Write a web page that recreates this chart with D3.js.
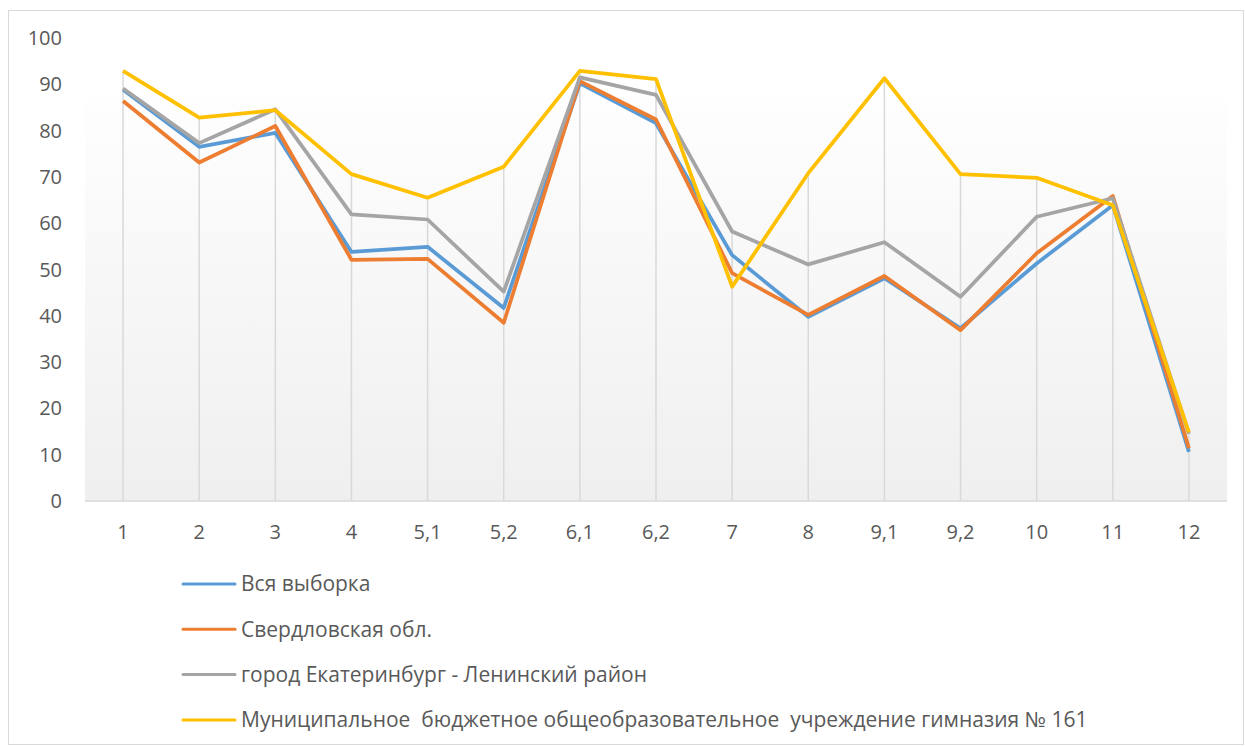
<!DOCTYPE html>
<html>
<head>
<meta charset="utf-8">
<script src="https://cdn.jsdelivr.net/npm/d3@7"></script>
<style>
  body { margin: 0; background: #fff; }
  svg { display: block; font-family: "Open Sans", "Noto Sans", sans-serif; }
</style>
</head>
<body>
<div id="chart"></div>
<script>
// categories (task numbers)
var categories = ["1", "2", "3", "4", "5,1", "5,2", "6,1", "6,2", "7", "8", "9,1", "9,2", "10", "11", "12"];

var seriesNames = [
  "Вся выборка",
  "Свердловская обл.",
  "город Екатеринбург - Ленинский район",
  "Муниципальное  бюджетное общеобразовательное  учреждение гимназия № 161"
];

var vsyaVyborka = [88.8, 76.5, 79.5, 53.8, 54.9, 41.7, 90.2, 81.6, 53.1, 39.8, 48.1, 37.3, 51.3, 63.9, 10.6];
var sverdlovsk = [86.4, 73.1, 81.0, 52.1, 52.3, 38.5, 90.7, 82.4, 49.2, 40.2, 48.6, 36.9, 53.5, 65.9, 11.4];
var leninsky   = [89.1, 77.3, 84.6, 61.9, 60.8, 45.2, 91.5, 87.7, 58.2, 51.1, 55.9, 44.1, 61.4, 65.4, 14.5];
var gymnasium  = [92.9, 82.8, 84.4, 70.6, 65.5, 72.2, 92.9, 91.1, 46.3, 70.8, 91.3, 70.6, 69.8, 63.9, 14.8];

var yTicks = [0, 10, 20, 30, 40, 50, 60, 70, 80, 90, 100];
var colors = ["#5b9bd5", "#ed7d31", "#a5a5a5", "#ffc000"];

var W = 1245, H = 746;
var plot = {left: 85, right: 1227, top: 38, bottom: 501};

var svg = d3.select("#chart").append("svg")
  .attr("width", W)
  .attr("height", H);

// outer frame
svg.append("rect")
  .attr("x", 8.5).attr("y", 10.5)
  .attr("width", W - 10).attr("height", H - 12)
  .attr("fill", "#fff")
  .attr("stroke", "#d9d9d9");

var x = d3.scalePoint()
  .domain(categories)
  .range([plot.left, plot.right])
  .padding(0.5);

var y = d3.scaleLinear()
  .domain([0, 100])
  .range([plot.bottom, plot.top]);

// plot area gradient
var grad = svg.append("defs").append("linearGradient")
  .attr("id", "bg").attr("x1", 0).attr("y1", 0).attr("x2", 0).attr("y2", 1);
grad.append("stop").attr("offset", "0%").attr("stop-color", "#fefefe");
grad.append("stop").attr("offset", "100%").attr("stop-color", "#efefef");

svg.append("rect")
  .attr("x", plot.left).attr("y", 98)
  .attr("width", plot.right - plot.left)
  .attr("height", plot.bottom - 98)
  .attr("fill", "url(#bg)");

var allSeries = [vsyaVyborka, sverdlovsk, leninsky, gymnasium];

// drop lines from the highest point of each category
svg.append("g")
  .selectAll("line")
  .data(categories)
  .enter().append("line")
    .attr("x1", function(d){ return x(d) })
    .attr("x2", function(d){ return x(d) })
    .attr("y1", function(d, i){ return y(d3.max(allSeries, function(s){ return s[i] })) })
    .attr("y2", plot.bottom)
    .attr("stroke", "#d9d9d9")
    .attr("stroke-width", 1.5);

// baseline
svg.append("line")
  .attr("x1", plot.left).attr("x2", plot.right)
  .attr("y1", plot.bottom).attr("y2", plot.bottom)
  .attr("stroke", "#d9d9d9")
  .attr("stroke-width", 1.5);

// y labels
svg.append("g")
  .selectAll("text")
  .data(yTicks)
  .enter().append("text")
    .attr("x", 62)
    .attr("y", function(d){ return y(d) })
    .attr("dy", "0.35em")
    .attr("text-anchor", "end")
    .attr("fill", "#595959")
    .style("font-size", "20px")
    .text(function(d){ return d });

// x labels
svg.append("g")
  .selectAll("text")
  .data(categories)
  .enter().append("text")
    .attr("x", function(d){ return x(d) })
    .attr("y", 532)
    .attr("dy", "0.35em")
    .attr("text-anchor", "middle")
    .attr("fill", "#595959")
    .style("font-size", "20px")
    .text(function(d){ return d });

// lines
var line = d3.line()
  .x(function(d, i){ return x(categories[i]) })
  .y(function(d){ return y(d) });

svg.append("g")
  .selectAll("path")
  .data(allSeries)
  .enter().append("path")
    .attr("d", line)
    .attr("fill", "none")
    .attr("stroke", function(d, i){ return colors[i] })
    .attr("stroke-width", 3.75)
    .attr("stroke-linejoin", "round");

// legend
var legend = svg.append("g")
  .selectAll("g")
  .data(seriesNames)
  .enter().append("g")
    .attr("transform", function(d, i){ return "translate(183," + (584 + i * 45.3) + ")" });

legend.append("line")
  .attr("x1", 0).attr("x2", 52)
  .attr("stroke", function(d, i){ return colors[i] })
  .attr("stroke-width", 3)
  .attr("stroke-linecap", "round");

legend.append("text")
  .attr("x", 58)
  .attr("dy", "0.35em")
  .attr("fill", "#595959")
  .style("font-size", "21px")
  .style("white-space", "pre")
  .text(function(d){ return d });
</script>
</body>
</html>
